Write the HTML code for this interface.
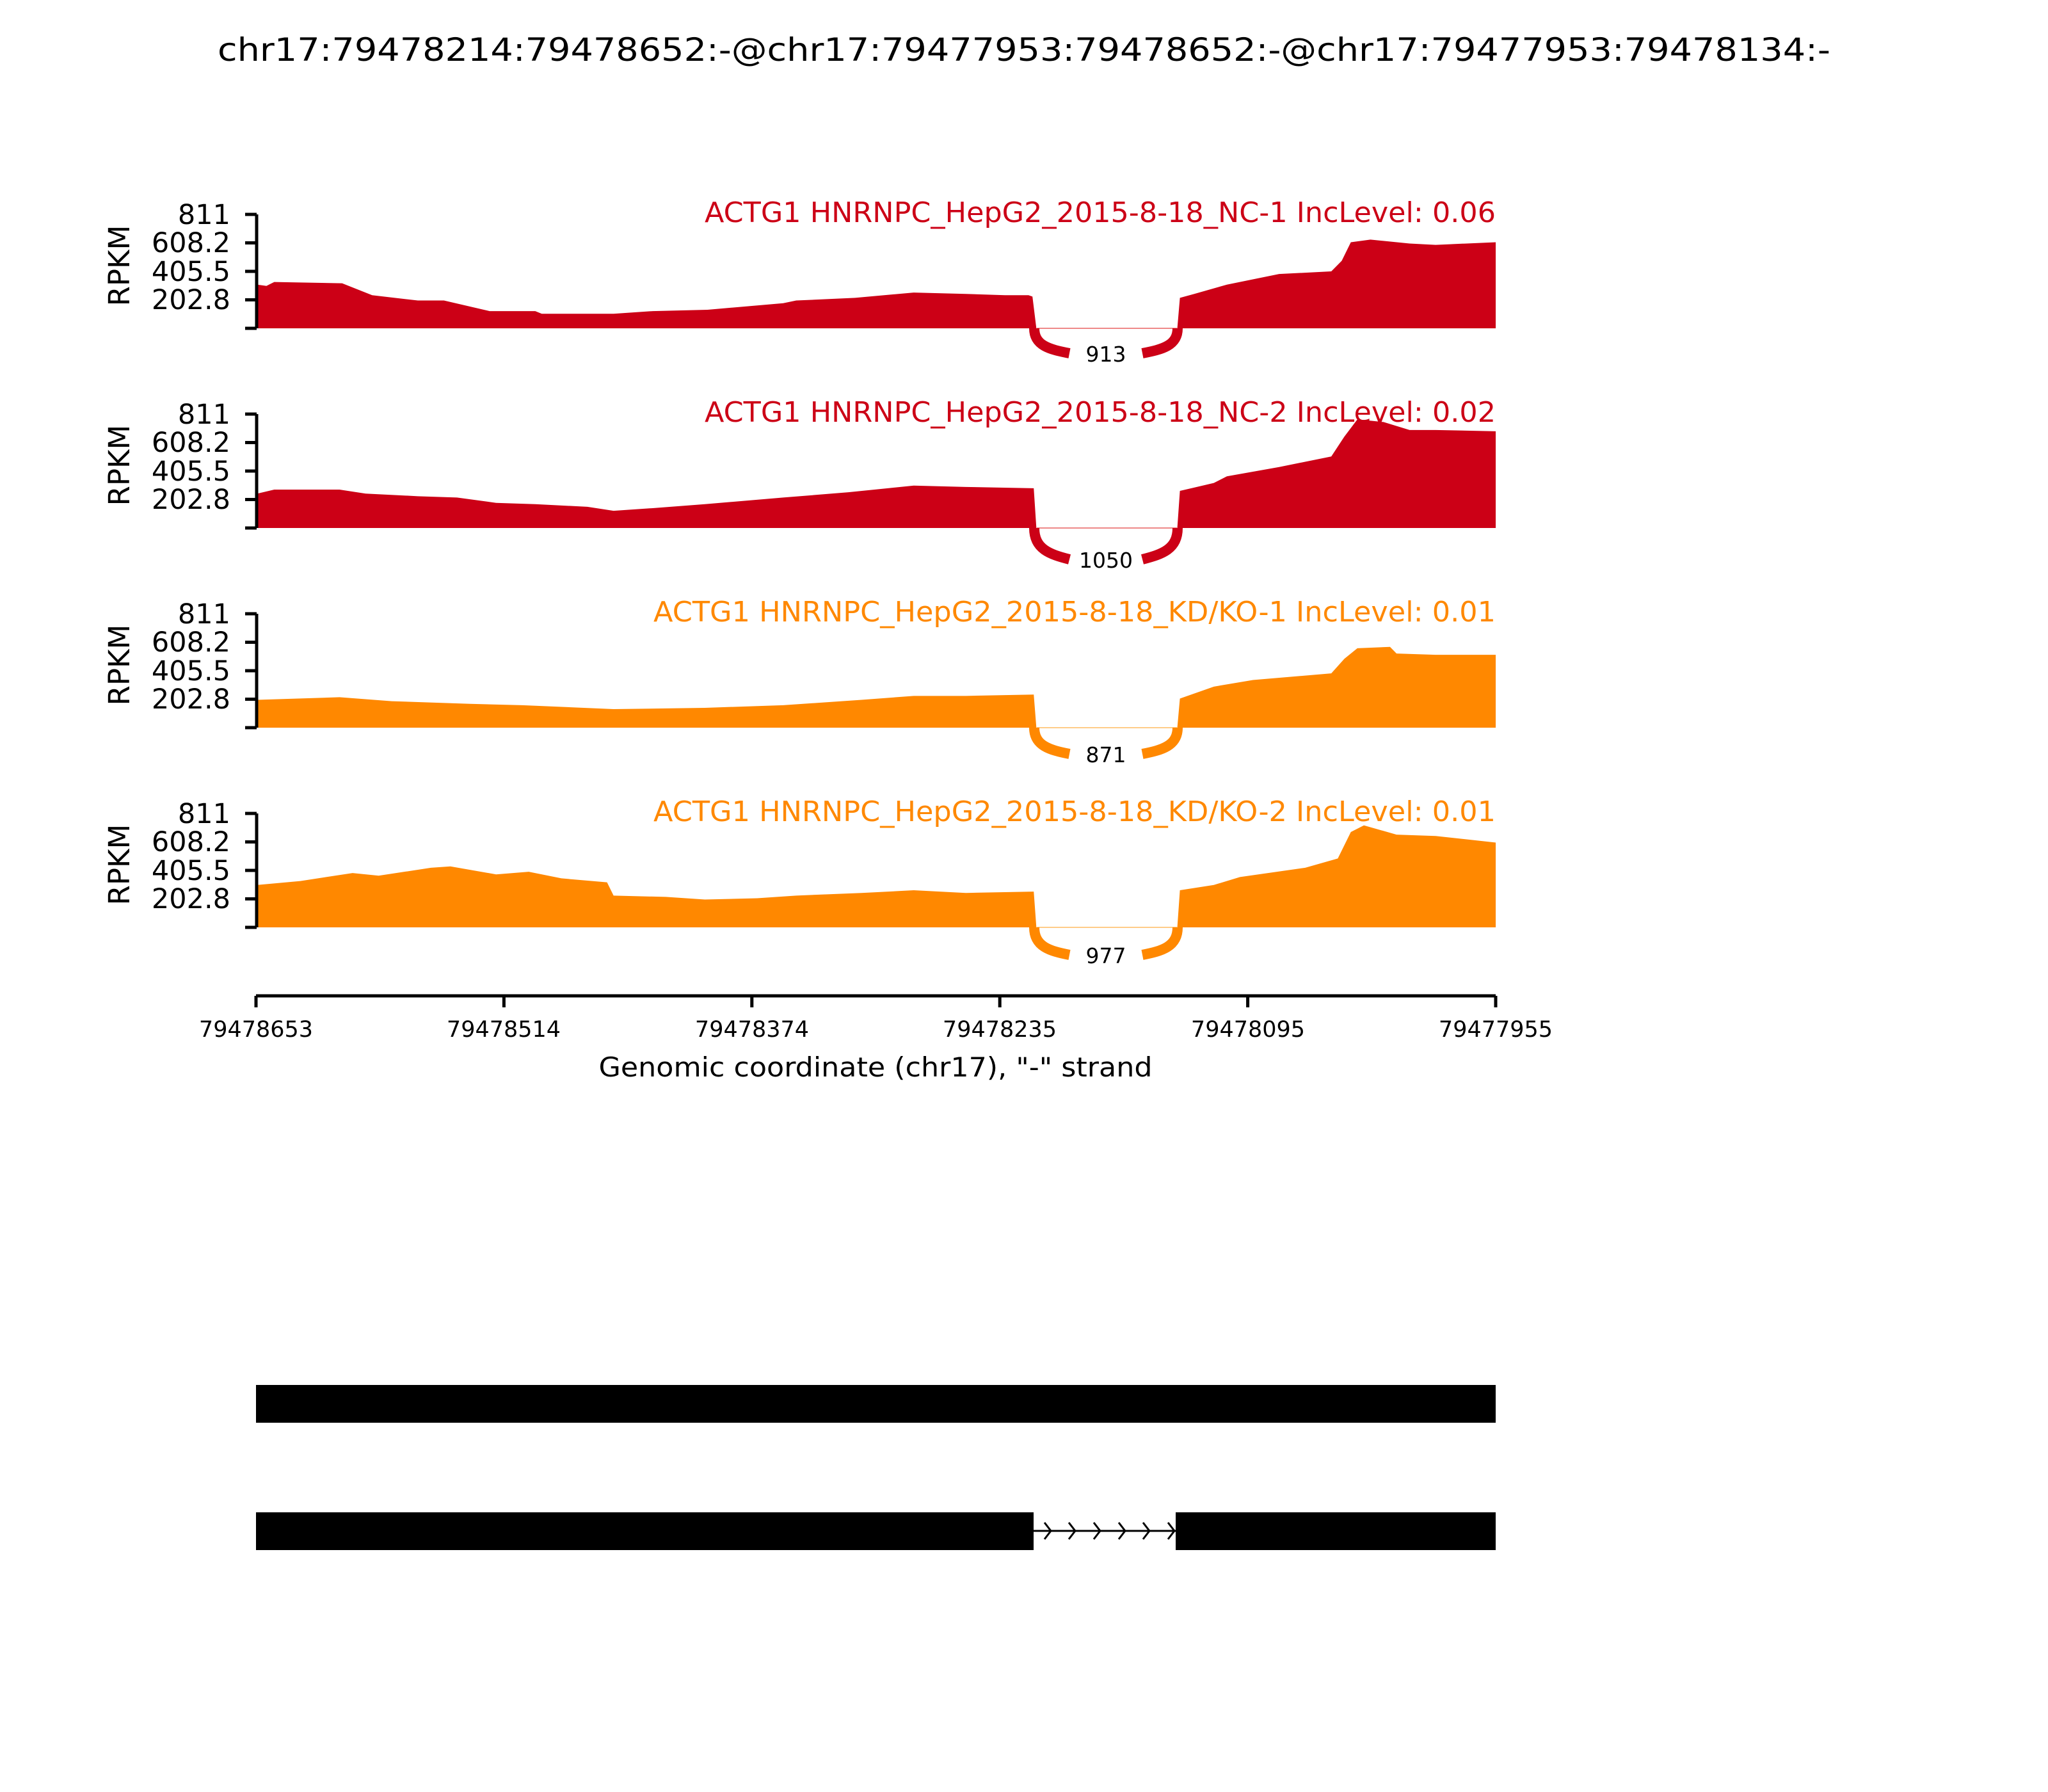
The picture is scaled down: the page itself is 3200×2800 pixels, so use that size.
<!DOCTYPE html>
<html><head><meta charset="utf-8"><style>html,body{margin:0;padding:0;background:#fff}svg{display:block}text{font-family:"DejaVu Sans","Liberation Sans",sans-serif}</style></head>
<body>
<svg width="3200" height="2800" viewBox="0 0 3200 2800" xmlns="http://www.w3.org/2000/svg">
<text x="1600" y="95" font-size="50" text-anchor="middle" textLength="2520" lengthAdjust="spacingAndGlyphs">chr17:79478214:79478652:-@chr17:79477953:79478652:-@chr17:79477953:79478134:-</text>

<!-- Panel 1 -->
<g transform="translate(400,335) scale(2.039,2.07)">
<path fill="#cc0016" d="M0,86 L1,53 8,54 12,52 14,51 66,52 89,61 124,65 144,65 179,73 214,73 219,75 274,75 304,73 346,72 404,67 414,65 459,63 504,59 544,60 574,61 592,61 595,62 598,86 Z M706,86 L708,63 719,60 744,53 784,45 824,43 832,35 839,21 854,19 884,22 904,23 950,21 950,86 Z"/>
</g>
<line x1="1620" y1="513" x2="1840" y2="513" stroke="#e88" stroke-width="2"/>
<path d="M1616,513 C1616,540 1640,546 1671,552 M1785,552 C1816,546 1840,540 1840,513" fill="none" stroke="#cc0016" stroke-width="16"/>
<text x="1728" y="565" font-size="33" text-anchor="middle">913</text>
<text x="2337" y="347" font-size="44" fill="#cc0016" text-anchor="end" textLength="1236" lengthAdjust="spacingAndGlyphs">ACTG1 HNRNPC_HepG2_2015-8-18_NC-1 IncLevel: 0.06</text>

<!-- Panel 2 -->
<g transform="translate(400,647) scale(2.039,2.07)">
<path fill="#cc0016" d="M0,86 L1,60 14,57 64,57 84,60 124,62 154,63 184,67 214,68 254,70 274,73 304,71 344,68 404,63 454,59 504,54 544,55 596,56 598,86 Z M706,86 L708,58 734,52 744,47 784,40 824,32 834,17 844,4 864,6 884,12 904,12 950,13 950,86 Z"/>
</g>
<line x1="1620" y1="825" x2="1840" y2="825" stroke="#e88" stroke-width="2"/>
<path d="M1616,825 C1616,858 1640,866 1671,874 M1785,874 C1816,866 1840,858 1840,825" fill="none" stroke="#cc0016" stroke-width="16"/>
<text x="1728" y="887" font-size="33" text-anchor="middle">1050</text>
<text x="2337" y="659" font-size="44" fill="#cc0016" text-anchor="end" textLength="1236" lengthAdjust="spacingAndGlyphs">ACTG1 HNRNPC_HepG2_2015-8-18_NC-2 IncLevel: 0.02</text>

<!-- Panel 3 -->
<g transform="translate(400,959) scale(2.039,2.07)">
<path fill="#ff8800" d="M0,86 L1,65 64,63 104,66 164,68 204,69 274,72 344,71 404,69 464,65 504,62 544,62 596,61 598,86 Z M706,86 L708,64 734,55 764,50 824,45 834,34 844,26 869,25 874,30 904,31 950,31 950,86 Z"/>
</g>
<line x1="1620" y1="1137" x2="1840" y2="1137" stroke="#fc8" stroke-width="2"/>
<path d="M1616,1137 C1616,1165 1640,1172 1671,1178 M1785,1178 C1816,1172 1840,1165 1840,1137" fill="none" stroke="#ff8800" stroke-width="16"/>
<text x="1728" y="1191" font-size="33" text-anchor="middle">871</text>
<text x="2337" y="971" font-size="44" fill="#ff8800" text-anchor="end" textLength="1316" lengthAdjust="spacingAndGlyphs">ACTG1 HNRNPC_HepG2_2015-8-18_KD/KO-1 IncLevel: 0.01</text>

<!-- Panel 4 -->
<g transform="translate(400,1271) scale(2.039,2.07)">
<path fill="#ff8800" d="M0,86 L1,54 34,51 74,45 94,47 134,41 149,40 184,46 209,44 234,49 269,52 274,62 314,63 344,65 384,64 414,62 464,60 504,58 544,60 596,59 598,86 Z M706,86 L708,58 734,54 754,48 804,41 829,34 839,14 849,9 874,16 904,17 950,22 950,86 Z"/>
</g>
<line x1="1620" y1="1449" x2="1840" y2="1449" stroke="#fc8" stroke-width="2"/>
<path d="M1616,1449 C1616,1479 1640,1486 1671,1492 M1785,1492 C1816,1486 1840,1479 1840,1449" fill="none" stroke="#ff8800" stroke-width="16"/>
<text x="1728" y="1505" font-size="33" text-anchor="middle">977</text>
<text x="2337" y="1283" font-size="44" fill="#ff8800" text-anchor="end" textLength="1316" lengthAdjust="spacingAndGlyphs">ACTG1 HNRNPC_HepG2_2015-8-18_KD/KO-2 IncLevel: 0.01</text>

<!-- Y axes -->
<g stroke="#000" stroke-width="5" fill="none">
<path d="M401,335 V513 M383,335 H401 M383,379.5 H401 M383,424 H401 M383,468.5 H401 M383,513 H401"/>
<path d="M401,647 V825 M383,647 H401 M383,691.5 H401 M383,736 H401 M383,780.5 H401 M383,825 H401"/>
<path d="M401,959 V1137 M383,959 H401 M383,1003.5 H401 M383,1048 H401 M383,1092.5 H401 M383,1137 H401"/>
<path d="M401,1271 V1449 M383,1271 H401 M383,1315.5 H401 M383,1360 H401 M383,1404.5 H401 M383,1449 H401"/>
</g>
<g font-size="43" text-anchor="end">
<text x="360" y="350">811</text><text x="360" y="394">608.2</text><text x="360" y="439">405.5</text><text x="360" y="483">202.8</text>
<text x="360" y="662">811</text><text x="360" y="706">608.2</text><text x="360" y="751">405.5</text><text x="360" y="795">202.8</text>
<text x="360" y="974">811</text><text x="360" y="1018">608.2</text><text x="360" y="1063">405.5</text><text x="360" y="1107">202.8</text>
<text x="360" y="1286">811</text><text x="360" y="1330">608.2</text><text x="360" y="1375">405.5</text><text x="360" y="1419">202.8</text>
</g>
<g font-size="45" text-anchor="middle">
<text transform="translate(202,415) rotate(-90)">RPKM</text>
<text transform="translate(202,727) rotate(-90)">RPKM</text>
<text transform="translate(202,1039) rotate(-90)">RPKM</text>
<text transform="translate(202,1351) rotate(-90)">RPKM</text>
</g>

<!-- X axis -->
<path d="M400,1556 H2337 M400,1556 v18 M787.4,1556 v18 M1174.8,1556 v18 M1562.2,1556 v18 M1949.6,1556 v18 M2337,1556 v18" stroke="#000" stroke-width="5" fill="none"/>
<g font-size="35" text-anchor="middle">
<text x="400" y="1620">79478653</text><text x="787" y="1620">79478514</text><text x="1175" y="1620">79478374</text>
<text x="1562" y="1620">79478235</text><text x="1950" y="1620">79478095</text><text x="2337" y="1620">79477955</text>
</g>
<text x="1368" y="1682" font-size="42" text-anchor="middle" textLength="865" lengthAdjust="spacingAndGlyphs">Genomic coordinate (chr17), "-" strand</text>

<!-- Gene models -->
<rect x="400" y="2164" width="1937" height="59" fill="#000"/>
<rect x="400" y="2363" width="1215" height="59" fill="#000"/>
<rect x="1837" y="2363" width="500" height="59" fill="#000"/>
<line x1="1615" y1="2392" x2="1837" y2="2392" stroke="#000" stroke-width="3"/>
<path d="M1632,2379 L1642,2392 1632,2405 M1670,2379 L1680,2392 1670,2405 M1709,2379 L1719,2392 1709,2405 M1748,2379 L1758,2392 1748,2405 M1786,2379 L1796,2392 1786,2405 M1825,2379 L1835,2392 1825,2405" stroke="#000" stroke-width="3" fill="none"/>
</svg>
</body></html>
